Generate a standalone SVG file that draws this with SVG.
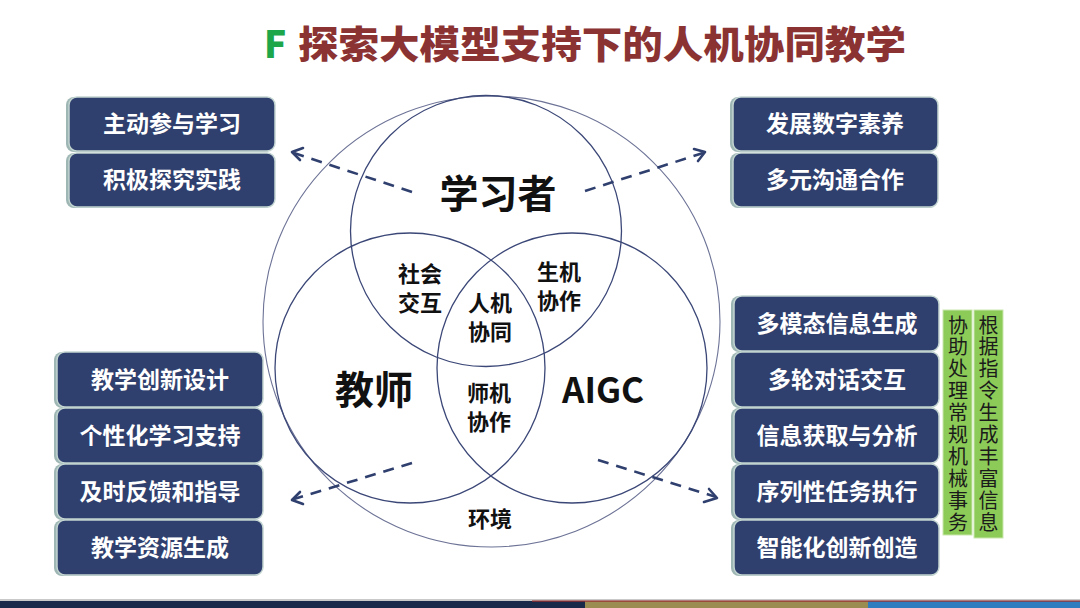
<svg xmlns="http://www.w3.org/2000/svg" width="1080" height="608" viewBox="0 0 1080 608">
<defs>
<style>
.box{fill:#2f3f6e;stroke:#c3d5d1;stroke-width:1.5}
.sh{fill:#9fb7b4}
.bt{font-family:"Noto Sans CJK SC","Liberation Sans",sans-serif;font-weight:700;font-size:23px;fill:#ffffff;text-anchor:middle}
.gb{fill:#8dcb58;stroke:#c9e6ad;stroke-width:1}
.gt{font-family:"Noto Sans CJK SC","Liberation Sans",sans-serif;font-weight:400;font-size:20px;fill:#1b1b1b;writing-mode:vertical-rl;letter-spacing:1.9px}
.vc{fill:none;stroke:#3b4777;stroke-width:1.3}
.big{fill:none;stroke:#6d7396;stroke-width:1.1}
.lb{font-family:"Noto Sans CJK SC","Liberation Sans",sans-serif;font-weight:700;fill:#111111;text-anchor:middle}
.da{fill:none;stroke:#2f3f6e;stroke-width:2.6;stroke-dasharray:11 8}
.ah{fill:none;stroke:#2f3f6e;stroke-width:2.6;stroke-linecap:round;stroke-linejoin:round}
</style>
</defs>
<rect width="1080" height="608" fill="#ffffff"/>
<g id="title">
<text x="264" y="58" font-family="Noto Sans CJK SC,Liberation Sans,sans-serif" font-weight="900" font-size="37" fill="#1ea64b">F</text>
<text x="298" y="58" font-family="Noto Sans CJK SC,Liberation Sans,sans-serif" font-weight="900" font-size="38" fill="#8b3333" textLength="608" lengthAdjust="spacingAndGlyphs">探索大模型支持下的人机协同教学</text>
</g>
<g id="venn">
<ellipse class="big" cx="491.5" cy="321.5" rx="228.5" ry="225.5"/>
<circle class="vc" cx="486" cy="231" r="135.5"/>
<circle class="vc" cx="410" cy="368" r="135"/>
<circle class="vc" cx="572" cy="368" r="135"/>
</g>
<g id="labels">
<text class="lb" x="498" y="208" font-size="39">学习者</text>
<text class="lb" x="374" y="404" font-size="39">教师</text>
<text class="lb" x="603" y="403" font-size="35" font-family="Liberation Sans,sans-serif">AIGC</text>
<text class="lb" font-size="22"><tspan x="420" y="282">社会</tspan><tspan x="420" y="311">交互</tspan></text>
<text class="lb" font-size="22"><tspan x="490" y="311">人机</tspan><tspan x="490" y="340">协同</tspan></text>
<text class="lb" font-size="22"><tspan x="559" y="280">生机</tspan><tspan x="559" y="309">协作</tspan></text>
<text class="lb" font-size="22"><tspan x="489" y="401">师机</tspan><tspan x="489" y="430">协作</tspan></text>
<text class="lb" x="490" y="527" font-size="22">环境</text>
</g>
<g id="connectors">
<line class="da" x1="412" y1="192" x2="294" y2="153"/>
<polyline class="ah" points="303,148 292,152 300,160"/>
<line class="da" x1="585" y1="191" x2="703" y2="153"/>
<polyline class="ah" points="694,149 705,152 698,161"/>
<line class="da" x1="412" y1="463" x2="294" y2="499"/>
<polyline class="ah" points="300,492 292,500 303,504"/>
<line class="da" x1="598" y1="460" x2="716" y2="497"/>
<polyline class="ah" points="704,502 717,498 709,489"/>
</g>
<g id="learner-boxes">
<g id="lb1"><rect class="sh" x="66" y="97" width="207" height="55" rx="8"/><rect class="box" x="69" y="97" width="206" height="54" rx="8"/><text class="bt" x="172" y="132">主动参与学习</text></g>
<g id="lb2"><rect class="sh" x="66" y="153" width="207" height="55" rx="8"/><rect class="box" x="69" y="153" width="206" height="54" rx="8"/><text class="bt" x="172" y="188">积极探究实践</text></g>
<g id="rb1"><rect class="sh" x="730" y="97" width="207" height="55" rx="8"/><rect class="box" x="733" y="97" width="205" height="54" rx="8"/><text class="bt" x="835" y="132">发展数字素养</text></g>
<g id="rb2"><rect class="sh" x="730" y="153" width="207" height="55" rx="8"/><rect class="box" x="733" y="153" width="205" height="54" rx="8"/><text class="bt" x="835" y="188">多元沟通合作</text></g>
</g>
<g id="teacher-boxes">
<g id="tb1"><rect class="sh" x="54" y="352" width="208" height="56" rx="8"/><rect class="box" x="57" y="352" width="206" height="55" rx="8"/><text class="bt" x="160" y="388">教学创新设计</text></g>
<g id="tb2"><rect class="sh" x="54" y="408" width="208" height="56" rx="8"/><rect class="box" x="57" y="408" width="206" height="55" rx="8"/><text class="bt" x="160" y="444">个性化学习支持</text></g>
<g id="tb3"><rect class="sh" x="54" y="464" width="208" height="56" rx="8"/><rect class="box" x="57" y="464" width="206" height="55" rx="8"/><text class="bt" x="160" y="500">及时反馈和指导</text></g>
<g id="tb4"><rect class="sh" x="54" y="520" width="208" height="56" rx="8"/><rect class="box" x="57" y="520" width="206" height="55" rx="8"/><text class="bt" x="160" y="556">教学资源生成</text></g>
</g>
<g id="aigc-boxes">
<g id="ab1"><rect class="sh" x="731" y="296" width="207" height="56" rx="8"/><rect class="box" x="734" y="296" width="205" height="55" rx="8"/><text class="bt" x="837" y="332" font-size="24">多模态信息生成</text></g>
<g id="ab2"><rect class="sh" x="731" y="352" width="207" height="56" rx="8"/><rect class="box" x="734" y="352" width="205" height="55" rx="8"/><text class="bt" x="837" y="388" font-size="24">多轮对话交互</text></g>
<g id="ab3"><rect class="sh" x="731" y="408" width="207" height="56" rx="8"/><rect class="box" x="734" y="408" width="205" height="55" rx="8"/><text class="bt" x="837" y="444" font-size="24">信息获取与分析</text></g>
<g id="ab4"><rect class="sh" x="731" y="464" width="207" height="56" rx="8"/><rect class="box" x="734" y="464" width="205" height="55" rx="8"/><text class="bt" x="837" y="500" font-size="24">序列性任务执行</text></g>
<g id="ab5"><rect class="sh" x="731" y="520" width="207" height="56" rx="8"/><rect class="box" x="734" y="520" width="205" height="55" rx="8"/><text class="bt" x="837" y="556" font-size="24">智能化创新创造</text></g>
</g>
<g id="green1">
<rect class="gb" x="943" y="310" width="29" height="225"/>
<text class="gt" x="958" y="315">协助处理常规机械事务</text>
</g>
<g id="green2">
<rect class="gb" x="974" y="310" width="29" height="228"/>
<text class="gt" x="988.5" y="315">根据指令生成丰富信息</text>
</g>
<g id="footer">
<rect x="0" y="599" width="1080" height="2" fill="#c9c9c9"/>
<rect x="0" y="601" width="585" height="7" fill="#18294a"/>
<rect x="585" y="601" width="283" height="7" fill="#9b8c52"/>
<rect x="868" y="601" width="212" height="7" fill="#2f7dbf"/>
<rect x="532" y="600.5" width="548" height="1.2" fill="#9b2f2f"/>
</g>
</svg>
